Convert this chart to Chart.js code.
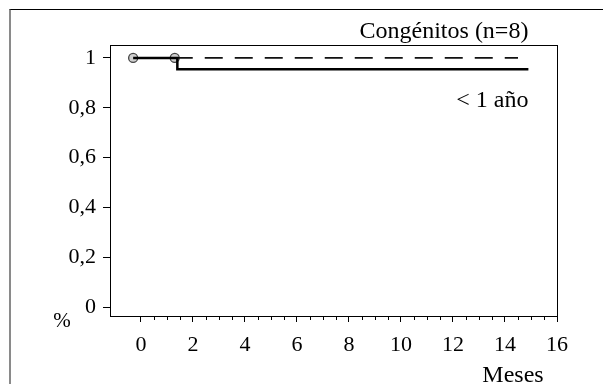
<!DOCTYPE html>
<html>
<head>
<meta charset="utf-8">
<script src="https://cdn.jsdelivr.net/npm/chart.js@4"></script>
<style>
  html, body { margin: 0; padding: 0; background: #fff; }
  #wrap { position: relative; width: 603px; height: 384px; overflow: hidden; }
  #frame { position: absolute; left: 9px; top: 9px; width: 600px; height: 400px;
           border-top: 1px solid #000; border-left: 2px solid #8a8a8a; }
  canvas { position: absolute; left: 0; top: 0; }
</style>
</head>
<body>
<div id="wrap">
  <div id="frame"></div>
  <canvas id="chart" width="603" height="384"></canvas>
</div>
<script>
// Axis ticks
const xTicks = [0, 2, 4, 6, 8, 10, 12, 14, 16];
const yTicks = [0, 0.2, 0.4, 0.6, 0.8, 1];
const minorStep = 0.5;

// Curves (months, survival)
const lessOneMonths = [-0.3, 1.4, 14.9];
const lessOneValues = [1, 0.955, 0.955];
const congMonths = [1.3, 14.5];
const congValues = [1, 1];
const censorMonths = [-0.3, 1.3];
const censorValues = [1, 1];

const titleText = 'Congénitos (n=8)';
const lessOneLabel = '< 1 año';

const serif = '"Liberation Serif", "Times New Roman", serif';

function toPoints(xs, ys) {
    return xs.map((x, i) => ({ x: x, y: ys[i] }));
}

// Box, minor ticks and free texts
const extras = {
    id: 'extras',
    afterDraw(chart) {
        const c = chart.ctx;
        const a = chart.chartArea;
        const xs = chart.scales.x;
        const ys = chart.scales.y;
        c.save();
        c.strokeStyle = '#000';
        c.lineWidth = 1;
        c.strokeRect(Math.round(a.left) + 0.5, Math.round(a.top) + 0.5,
                     Math.round(a.right - a.left), Math.round(a.bottom - a.top));
        // minor ticks
        c.beginPath();
        for (let v = xTicks[0]; v <= xTicks[xTicks.length - 1]; v += minorStep) {
            if (xTicks.includes(v)) continue;
            const px = Math.round(xs.getPixelForValue(v)) + 0.5;
            c.moveTo(px, a.bottom);
            c.lineTo(px, a.bottom + 4);
        }
        c.stroke();

        c.fillStyle = '#000';
        c.font = '24px ' + serif;
        c.textBaseline = 'middle';
        const endX = xs.getPixelForValue(lessOneMonths[lessOneMonths.length - 1]);
        c.textAlign = 'right';
        c.fillText(titleText, endX, a.top - 13);
        c.fillText(lessOneLabel, endX, ys.getPixelForValue(0.83));
        c.textAlign = 'center';
        c.fillText('Meses', 513, 376);
        c.font = '21px ' + serif;
        c.fillText('%', 62, 321);
        c.restore();
    }
};

new Chart(document.getElementById('chart'), {
    type: 'scatter',
    data: {
        datasets: [
            {
                label: lessOneLabel,
                data: toPoints(lessOneMonths, lessOneValues),
                showLine: true,
                stepped: 'before',
                borderColor: '#000',
                borderWidth: 2.5,
                pointRadius: 0,
                order: 1
            },
            {
                label: titleText,
                data: toPoints(congMonths, congValues),
                showLine: true,
                borderColor: '#111',
                borderWidth: 1.8,
                borderDash: [18, 12],
                pointRadius: 0,
                order: 2
            },
            {
                label: 'censurados',
                data: toPoints(censorMonths, censorValues),
                showLine: false,
                pointRadius: 4.5,
                pointBackgroundColor: '#cfcfcf',
                pointBorderColor: '#444',
                pointBorderWidth: 1.3,
                order: 3
            }
        ]
    },
    options: {
        responsive: false,
        animation: false,
        devicePixelRatio: 1,
        layout: { padding: { top: 45, right: 46, left: 0, bottom: 0 } },
        plugins: {
            legend: { display: false },
            tooltip: { enabled: false }
        },
        scales: {
            x: {
                type: 'linear',
                min: -1.19,
                max: 16,
                afterFit: s => { s.height = 68; },
                afterBuildTicks: s => { s.ticks = xTicks.map(v => ({ value: v })); },
                grid: { drawOnChartArea: false, drawTicks: true, tickLength: 6, color: '#000' },
                border: { display: false },
                ticks: {
                    color: '#000',
                    padding: 10,
                    maxRotation: 0,
                    font: { family: serif, size: 22 },
                    callback: v => String(v)
                }
            },
            y: {
                type: 'linear',
                min: -0.036,
                max: 1.052,
                afterFit: s => { s.width = 110; },
                afterBuildTicks: s => { s.ticks = yTicks.map(v => ({ value: v })); },
                grid: { drawOnChartArea: false, drawTicks: true, tickLength: 7, color: '#000' },
                border: { display: false },
                ticks: {
                    color: '#000',
                    padding: 7,
                    font: { family: serif, size: 22 },
                    callback: v => String(Math.round(v * 10) / 10).replace('.', ',')
                }
            }
        }
    },
    plugins: [extras]
});
</script>
</body>
</html>
